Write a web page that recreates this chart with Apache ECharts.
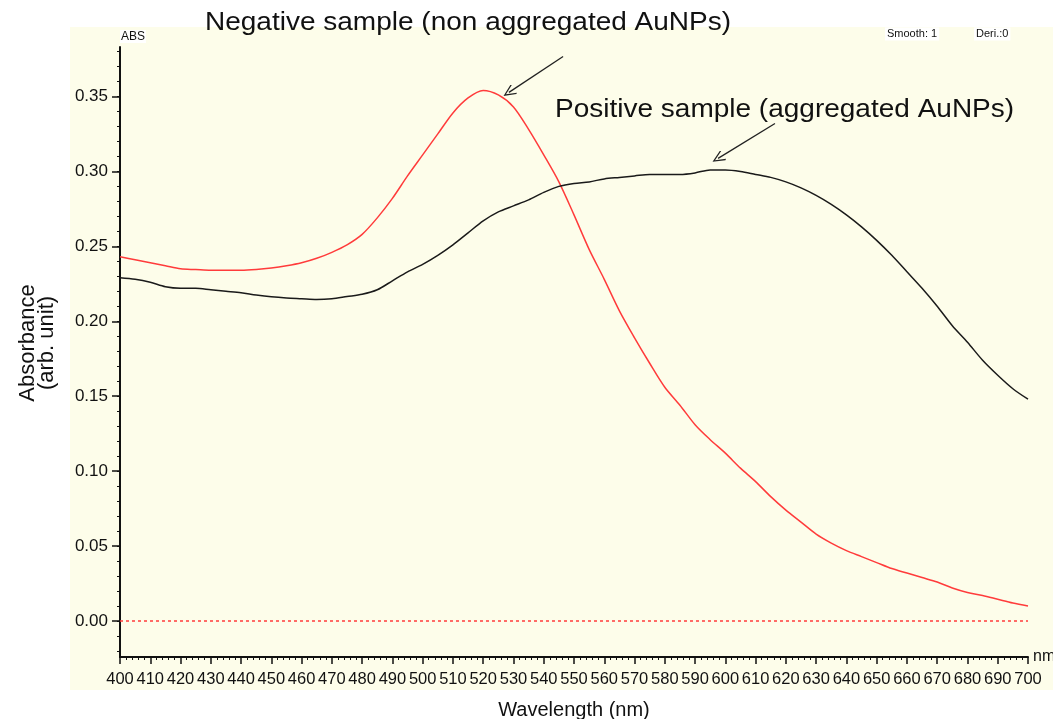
<!DOCTYPE html>
<html>
<head>
<meta charset="utf-8">
<script src="https://cdn.jsdelivr.net/npm/echarts@6/dist/echarts.min.js"></script>
<style>
  html, body { margin: 0; padding: 0; background: #ffffff; }
  #chart { width: 1053px; height: 719px; }
</style>
</head>
<body>
<div id="chart"></div>
<script>
// wavelength in nm, one reading every 5 nm
const wavelengths = [
    400, 405, 410, 415, 420, 425, 430, 435, 440, 445,
    450, 455, 460, 465, 470, 475, 480, 485, 490, 495,
    500, 505, 510, 515, 520, 525, 530, 535, 540, 545,
    550, 555, 560, 565, 570, 575, 580, 585, 590, 595,
    600, 605, 610, 615, 620, 625, 630, 635, 640, 645,
    650, 655, 660, 665, 670, 675, 680, 685, 690, 695, 700
];

// negative sample (non aggregated AuNPs), red curve
const negativeAbs = [
    0.243, 0.241, 0.239, 0.237, 0.235, 0.2345, 0.234, 0.234, 0.234, 0.2345,
    0.2355, 0.237, 0.239, 0.242, 0.246, 0.251, 0.258, 0.269, 0.282, 0.297,
    0.311, 0.325, 0.339, 0.349, 0.354, 0.351, 0.343, 0.328, 0.311, 0.293,
    0.271, 0.248, 0.228, 0.207, 0.189, 0.172, 0.156, 0.144, 0.131, 0.121,
    0.112, 0.102, 0.093, 0.083, 0.074, 0.066, 0.058, 0.052, 0.047, 0.043,
    0.039, 0.035, 0.032, 0.029, 0.026, 0.022, 0.019, 0.017, 0.0145, 0.012, 0.010
];

// positive sample (aggregated AuNPs), black curve
const positiveAbs = [
    0.229, 0.228, 0.226, 0.223, 0.222, 0.222, 0.221, 0.220, 0.219, 0.2175,
    0.2163, 0.2155, 0.215, 0.2145, 0.215, 0.2165, 0.218, 0.221, 0.227, 0.233,
    0.238, 0.244, 0.251, 0.259, 0.267, 0.273, 0.277, 0.281, 0.286, 0.290,
    0.292, 0.293, 0.295, 0.296, 0.297, 0.298, 0.298, 0.298, 0.299, 0.301,
    0.301, 0.300, 0.298, 0.296, 0.293, 0.289, 0.284, 0.278, 0.271, 0.263,
    0.254, 0.244, 0.233, 0.222, 0.210, 0.197, 0.186, 0.174, 0.164, 0.155, 0.148
];

// y axis tick labels and minor tick positions
const yLabelValues = [0, 0.05, 0.10, 0.15, 0.20, 0.25, 0.30, 0.35];
const yMinorValues = [];
for (let i = -2; i <= 38; i++) {
    yMinorValues.push(i / 100);
}

// arrow annotations: [start, end] in data units
const negativeArrow = [[546.4, 0.3767], [528.5, 0.3527]];
const positiveArrow = [[616.4, 0.332], [597.6, 0.3087]];

const FONT = "Liberation Sans, Arial, sans-serif";
const CHEVRON = "path://M0,0 L6,10 L5,11 L0,2.5 L-5,11 L-6,10 Z";

const toPairs = (xs, ys) => xs.map((x, i) => [x, ys[i]]);

const arrowLine = (pts) => [
    { coord: pts[0], symbol: "none" },
    { coord: pts[1], symbol: CHEVRON, symbolSize: [11, 13] },
];

const chart = echarts.init(document.getElementById("chart"), null, { renderer: "canvas" });

const option = {
    animation: false,
    backgroundColor: "#ffffff",
    textStyle: { fontFamily: FONT },
    // keep the plot box fixed, do not shrink it to fit the axis texts
    grid: { left: 120, right: 25, top: 47, bottom: 62, outerBoundsMode: "none" },
    graphic: [
        {
            type: "rect",
            z: -10,
            silent: true,
            shape: { x: 70, y: 27, width: 983, height: 663 },
            style: { fill: "#fdfdea" },
        },
        {
            type: "text",
            x: 205,
            y: 23,
            scaleX: 1.12,
            style: {
                text: "Negative sample (non aggregated AuNPs)",
                font: "25px " + FONT,
                fill: "#111",
                verticalAlign: "middle",
            },
        },
        {
            type: "text",
            x: 555,
            y: 110,
            scaleX: 1.12,
            style: {
                text: "Positive sample (aggregated AuNPs)",
                font: "25px " + FONT,
                fill: "#111",
                verticalAlign: "middle",
            },
        },
        {
            type: "text",
            x: 885,
            y: 34,
            style: {
                text: "Smooth: 1",
                font: "11px " + FONT,
                fill: "#111",
                verticalAlign: "middle",
                backgroundColor: "#ffffff",
                padding: [1, 2],
            },
        },
        {
            type: "text",
            x: 974,
            y: 34,
            style: {
                text: "Deri.:0",
                font: "11px " + FONT,
                fill: "#111",
                verticalAlign: "middle",
                backgroundColor: "#ffffff",
                padding: [1, 2],
            },
        },
    ],
    xAxis: [
        {
            type: "value",
            min: 400,
            max: 700,
            interval: 10,
            name: "Wavelength (nm)",
            nameLocation: "middle",
            nameGap: 43,
            nameTextStyle: { fontSize: 20, color: "#111", fontFamily: FONT },
            axisLine: { onZero: false, lineStyle: { color: "#111", width: 2 } },
            axisTick: { length: 7, lineStyle: { color: "#111", width: 1.5 } },
            minorTick: { show: true, splitNumber: 5, length: 3, lineStyle: { color: "#111" } },
            axisLabel: { fontSize: 16.5, color: "#111", margin: 14, fontFamily: FONT },
            splitLine: { show: false },
        },
        {
            // second axis only carries the "nm" unit at the right end
            type: "value",
            min: 400,
            max: 700,
            position: "bottom",
            name: "nm",
            nameLocation: "end",
            nameGap: 5,
            nameTextStyle: { fontSize: 16, color: "#111", fontFamily: FONT },
            axisLine: { show: false, onZero: false },
            axisTick: { show: false },
            axisLabel: { show: false },
            splitLine: { show: false },
        },
    ],
    yAxis: [
        {
            type: "value",
            min: -0.024,
            max: 0.383,
            position: "left",
            name: "Absorbance\n(arb. unit)",
            nameLocation: "middle",
            nameRotate: 90,
            nameGap: 64,
            nameTextStyle: {
                fontSize: 22,
                lineHeight: 19,
                color: "#111",
                fontFamily: FONT,
                padding: [0, 0, 0, 18],
            },
            axisLine: { lineStyle: { color: "#111", width: 2 } },
            axisTick: {
                customValues: yLabelValues,
                length: 8,
                lineStyle: { color: "#111", width: 1.5 },
            },
            axisLabel: {
                customValues: yLabelValues,
                fontSize: 17,
                color: "#111",
                margin: 12,
                fontFamily: FONT,
                formatter: (v) => v.toFixed(2),
            },
            splitLine: { show: false },
        },
        {
            // minor ticks every 0.01 and the "ABS" label on top
            type: "value",
            min: -0.024,
            max: 0.383,
            position: "left",
            name: "ABS",
            nameLocation: "end",
            nameGap: 4,
            nameTextStyle: {
                fontSize: 12,
                color: "#111",
                fontFamily: FONT,
                align: "left",
                backgroundColor: "#ffffff",
                padding: [1, 1, 0, 1],
            },
            axisLine: { show: false },
            axisTick: {
                customValues: yMinorValues,
                length: 3,
                lineStyle: { color: "#111" },
            },
            axisLabel: { show: false },
            splitLine: { show: false },
        },
    ],
    series: [
        {
            name: "Negative sample",
            type: "line",
            data: toPairs(wavelengths, negativeAbs),
            smooth: 0.3,
            showSymbol: false,
            lineStyle: { color: "#ff3b3b", width: 1.5 },
            markLine: {
                silent: true,
                symbol: ["none", "none"],
                label: { show: false },
                data: [
                    // zero baseline
                    { yAxis: 0, lineStyle: { color: "#ff3b3b", type: [3, 3], width: 1.5 } },
                    arrowLine(negativeArrow).map((p) => ({
                        ...p,
                        lineStyle: { color: "#222", type: "solid", width: 1.3 },
                        itemStyle: { color: "#222" },
                    })),
                ],
            },
        },
        {
            name: "Positive sample",
            type: "line",
            data: toPairs(wavelengths, positiveAbs),
            smooth: 0.3,
            showSymbol: false,
            lineStyle: { color: "#1a1a1a", width: 1.5 },
            markLine: {
                silent: true,
                symbol: ["none", "none"],
                label: { show: false },
                lineStyle: { color: "#222", type: "solid", width: 1.3 },
                itemStyle: { color: "#222" },
                data: [arrowLine(positiveArrow)],
            },
        },
    ],
};

chart.setOption(option);
</script>
</body>
</html>
